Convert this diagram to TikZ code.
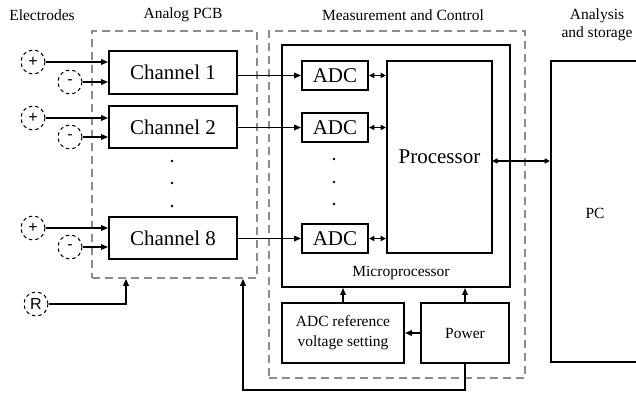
\documentclass[tikz,border=0pt]{standalone}
\usepackage{fontspec}
\setmainfont{Liberation Serif}
\newfontfamily\elecfont{Liberation Sans}
\usetikzlibrary{arrows.meta}
\tikzset{
  blk/.style={draw, line width=1.8pt, inner sep=0pt, font=\fontsize{21}{24}\selectfont},
  smallblk/.style={draw, line width=1.8pt, inner sep=0pt, align=center, font=\fontsize{15.5}{20}\selectfont},
  group/.style={draw=gray!90, dash pattern=on 8pt off 5pt, line width=1.5pt, inner sep=0pt},
  electrode/.style={circle, draw, dash pattern=on 3.5pt off 3pt, line width=1pt, minimum size=24pt, inner sep=0pt, font=\elecfont\fontsize{16}{16}\selectfont},
  lbl/.style={font=\fontsize{15.5}{18}\selectfont, align=center, inner sep=0pt},
  arr/.style={line width=1.6pt, -{Triangle[length=7pt,width=5.5pt]}},
  darr/.style={line width=1.6pt, {Triangle[length=5.5pt,width=5pt]}-{Triangle[length=5.5pt,width=5pt]}},
  dotmark/.style={circle, fill, inner sep=0pt, minimum size=2.8pt},
}
\begin{document}
\begin{tikzpicture}[x=1pt, y=-1pt]
\useasboundingbox (0,0) rectangle (636,393);
\clip (0,0) rectangle (636,393);

% column headings
\node[lbl] (hE) at (42,15) {Electrodes};
\node[lbl] (hA) at (183,15) {Analog PCB};
\node[lbl] (hM) at (403,15) {Measurement and Control};
\node[lbl] (hS) at (597,25) {Analysis\\and storage};

% dashed groups
\node[group, minimum width=165pt, minimum height=247pt] (pcb) at (174.5,154.5) {};
\node[group, minimum width=256pt, minimum height=347pt] (mc) at (397,204.5) {};

% microprocessor and its parts
\node[draw, line width=1.8pt, inner sep=0pt, minimum width=228pt, minimum height=242pt] (micro) at (396,166) {};
\node[lbl] (microlbl) at (401,273) {Microprocessor};
\node[blk, minimum width=105pt, minimum height=192pt] (proc) at (439.5,157) {Processor};
\node[blk, minimum width=66pt, minimum height=29pt] (adc1) at (335,75.5) {ADC};
\node[blk, minimum width=66pt, minimum height=29pt] (adc2) at (335,127.5) {ADC};
\node[blk, minimum width=66pt, minimum height=29pt] (adc8) at (335,238.5) {ADC};

% power and reference
\node[smallblk, minimum width=122pt, minimum height=60pt] (vref) at (343,333) {ADC reference\\voltage setting};
\node[smallblk, minimum width=88pt, minimum height=60pt] (pwr) at (465,333) {Power};

% PC
\node[draw, line width=1.8pt, inner sep=0pt, minimum width=120pt, minimum height=301pt] (pc) at (611,211.5) {};
\node[lbl] (pclbl) at (595,213) {PC};

% channels
\node[blk, minimum width=128pt, minimum height=43pt] (ch1) at (173,72.5) {Channel 1};
\node[blk, minimum width=128pt, minimum height=42pt] (ch2) at (173,127) {Channel 2};
\node[blk, minimum width=128pt, minimum height=42pt] (ch8) at (173,238) {Channel 8};

% electrodes
\node[electrode] (p1) at (33,62) {+};
\node[electrode] (m1) at (70,82) {-};
\node[electrode] (p2) at (33,118) {+};
\node[electrode] (m2) at (70,137) {-};
\node[electrode] (p8) at (33,228) {+};
\node[electrode] (m8) at (70,247) {-};
\node[electrode] (ref) at (36,304) {R};

% ellipsis dots
\node[dotmark] (d1) at (172,161) {};
\node[dotmark] (d2) at (172,183) {};
\node[dotmark] (d3) at (172,206) {};
\node[dotmark] (d4) at (334,159) {};
\node[dotmark] (d5) at (334,182) {};
\node[dotmark] (d6) at (334,204) {};

% electrode inputs
\foreach \e/\c in {p1/ch1, m1/ch1, p2/ch2, m2/ch2, p8/ch8, m8/ch8}
  \draw[arr] (\e) -- (\e -| \c.west);
\coordinate (rcorner) at (126,304);
\draw[arr] (ref) -- (rcorner) -- (rcorner |- pcb.south);

% channels to converters
\foreach \c/\a in {ch1/adc1, ch2/adc2, ch8/adc8}
  \draw[arr] (\c.east |- \a.west) -- (\a.west);

% converters to processor
\foreach \a in {adc1, adc2, adc8}
  \draw[darr] (\a.east) -- (\a.east -| proc.west);

% processor to PC
\coordinate (plink) at (492,161);
\draw[darr] (plink) -- (plink -| pc.west);

% supply lines
\draw[arr] (vref.north) -- (vref.north |- micro.south);
\draw[arr] (pwr.north) -- (pwr.north |- micro.south);
\draw[arr] (pwr.west) -- (vref.east);
\coordinate (fb1) at (465,390);
\coordinate (fb2) at (243,390);
\draw[arr] (pwr.south) -- (fb1) -- (fb2) -- (fb2 |- pcb.south);
\end{tikzpicture}
\end{document}
